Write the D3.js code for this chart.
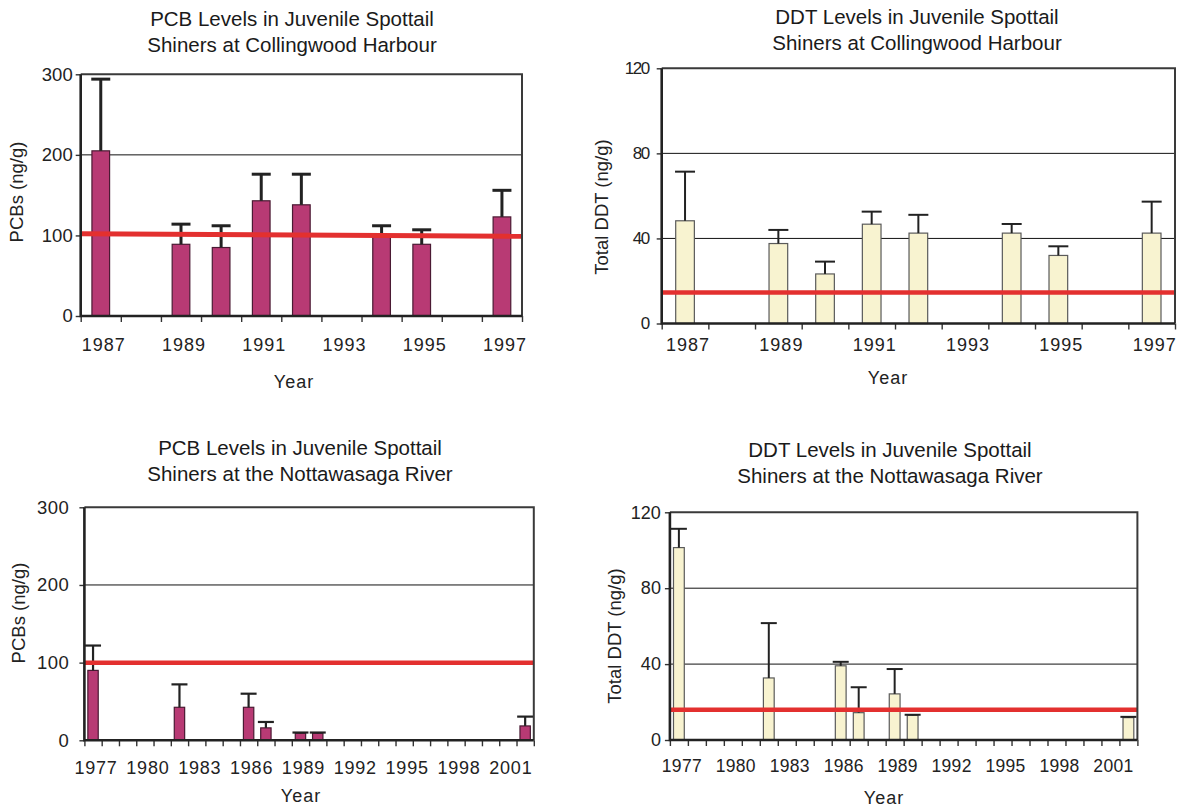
<!DOCTYPE html>
<html><head><meta charset="utf-8">
<script src="https://cdn.jsdelivr.net/npm/d3@7"></script>
<style>
html,body{margin:0;padding:0;background:#fff;}
svg{display:block;font-family:"Liberation Sans",Arial,sans-serif;}
</style>
</head><body>
<svg id="c" width="1178" height="808"></svg>
<script>
// ---------- DATA ----------
const collYears = [1987,1988,1989,1990,1991,1992,1993,1994,1995,1996,1997];
const collSampleYears = [1987,1989,1990,1991,1992,1994,1995,1997];
const collPcbMean  = [205, 89, 85, 143, 138, 101, 89, 123];
const collPcbUpper = [294, 114, 112, 176, 176, 112, 107, 156];
const collDdtMean  = [48.3, 37.6, 23.3, 46.7, 42.5, 42.5, 32.0, 42.5];
const collDdtUpper = [71.4, 44.0, 29.1, 52.6, 51.1, 46.8, 36.3, 57.3];
const collTickLabels = [1987,1989,1991,1993,1995,1997];

const nottYears = [1977,1978,1979,1980,1981,1982,1983,1984,1985,1986,1987,1988,1989,
                   1990,1991,1992,1993,1994,1995,1996,1997,1998,1999,2000,2001,2002];
const nottSampleYears = [1977,1982,1986,1987,1989,1990,2002];
const nottPcbMean  = [90, 42.5, 42.5, 16, 9, 9, 18.5];
const nottPcbUpper = [122, 72, 60, 23.6, 10, 10, 30.5];
const nottDdtMean  = [101.4, 32.7, 39.1, 14.4, 24.3, 13.0, 11.8];
const nottDdtUpper = [111.3, 61.6, 41.2, 27.8, 37.4, 13.3, 12.2];
const nottTickLabels = [1977,1980,1983,1986,1989,1992,1995,1998,2001];

const pcbTicks = [0,100,200,300];
const pcbGrid = [100,200];
const ddtTicks = [0,40,80,120];
const ddtGrid = [40,80];

const guideCollPcb = [102, 99];
const guideCollDdt = [14.6, 14.6];
const guideNottPcb = [100, 100];
const guideNottDdt = [16, 16];

// ---------- DRAW ----------
const svg = d3.select("#c");
const PCB_FILL = "#b83a74", PCB_STROKE = "#4a1a33";
const DDT_FILL = "#f8f3d0", DDT_STROKE = "#5a5a5a";

function drawPanel(o) {
  const g = svg.append("g");
  const n = o.categories.length;
  const x = d3.scaleBand().domain(o.categories).range([o.left, o.right]).padding(0);
  const xe = d3.scaleLinear().domain([0, n]).range([o.left, o.right]);
  const y = d3.scaleLinear().domain([0, o.yMax]).range([o.bottom, o.top]);

  g.selectAll("line.grid").data(o.grid).join("line")
    .attr("x1", o.left).attr("x2", o.right)
    .attr("y1", d => y(d)).attr("y2", d => y(d))
    .attr("stroke", "#111").attr("stroke-width", 1);

  const data = o.sampleYears.map((yr, i) => ({yr, m: o.means[i], u: o.upper[i]}));
  const bw = x.bandwidth() * o.barFrac;
  const cx = d => x(d.yr) + x.bandwidth() / 2;

  g.selectAll("rect.bar").data(data).join("rect")
    .attr("x", d => cx(d) - bw / 2).attr("width", bw)
    .attr("y", d => y(d.m)).attr("height", d => o.bottom - y(d.m))
    .attr("fill", o.fill).attr("stroke", o.stroke).attr("stroke-width", 1.2);

  g.selectAll("line.err").data(data).join("line")
    .attr("x1", cx).attr("x2", cx)
    .attr("y1", d => y(d.m)).attr("y2", d => y(d.u))
    .attr("stroke", "#222").attr("stroke-width", o.errW);
  g.selectAll("line.cap").data(data).join("line")
    .attr("x1", d => cx(d) - o.capW / 2).attr("x2", d => cx(d) + o.capW / 2)
    .attr("y1", d => y(d.u)).attr("y2", d => y(d.u))
    .attr("stroke", "#222").attr("stroke-width", o.errW);

  g.append("line")
    .attr("x1", o.left).attr("x2", o.right)
    .attr("y1", y(o.guide[0])).attr("y2", y(o.guide[1]))
    .attr("stroke", "#e3302f").attr("stroke-width", o.guideW);

  g.append("path")
    .attr("d", `M${o.left},${o.top}H${o.right}V${o.bottom}`)
    .attr("fill", "none").attr("stroke", "#3a3a3a").attr("stroke-width", 2);

  const xa = g.append("g").attr("transform", `translate(0,${o.bottom})`)
    .call(d3.axisBottom(xe).tickValues(d3.range(n + 1)).tickSize(6).tickFormat(""));
  xa.select(".domain").remove();
  xa.selectAll("line").attr("stroke", "#333").attr("stroke-width", 1.4);

  const xl = g.append("g").attr("transform", `translate(${o.xLabDx},${o.bottom})`)
    .call(d3.axisBottom(x).tickValues(o.tickLabels).tickSize(0).tickPadding(o.xLabPad));
  xl.select(".domain").remove();
  xl.selectAll("text").attr("font-size", o.xLabSize).attr("fill", "#222")
    .attr("font-family", "Liberation Sans, Arial, sans-serif")
    .attr("letter-spacing", o.xLabLS);

  const ya = g.append("g").attr("transform", `translate(${o.left},0)`)
    .call(d3.axisLeft(y).tickValues(o.yTicks).tickSize(5).tickPadding(o.yLabPad).tickFormat(d3.format("d")));
  ya.select(".domain").remove();
  ya.selectAll("line").attr("stroke", "#333").attr("stroke-width", 1.4);
  ya.selectAll("text").attr("font-size", o.yLabSize).attr("fill", "#222")
    .attr("font-family", "Liberation Sans, Arial, sans-serif")
    .attr("letter-spacing", o.yLabLS);

  g.append("path")
    .attr("d", `M${o.left},${o.top}V${o.bottom}H${o.right}`)
    .attr("fill", "none").attr("stroke", "#222").attr("stroke-width", 2.6);

  o.title.forEach((t, i) => {
    g.append("text").attr("x", o.titleX).attr("y", o.titleY + i * 26)
      .attr("text-anchor", "middle").attr("font-size", 20.5).attr("fill", "#1a1a1a").text(t);
  });
  g.append("text").attr("transform", `translate(${o.yTitleX},${o.yTitleY}) rotate(-90)`)
    .attr("text-anchor", "middle").attr("dominant-baseline", "middle")
    .attr("font-size", 18.5).attr("fill", "#222").text(o.yTitle);
  g.append("text").attr("x", o.xTitleX).attr("y", o.xTitleY)
    .attr("text-anchor", "middle").attr("font-size", 18).attr("letter-spacing", 1)
    .attr("fill", "#222").text("Year");
}

drawPanel({
  left: 80.7, right: 522, top: 74.3, bottom: 316,
  categories: collYears, sampleYears: collSampleYears, means: collPcbMean, upper: collPcbUpper,
  yMax: 300, yTicks: pcbTicks, grid: pcbGrid, guide: guideCollPcb,
  fill: PCB_FILL, stroke: PCB_STROKE, barFrac: 0.44, capW: 19, errW: 3, guideW: 5,
  tickLabels: collTickLabels, xLabPad: 22, xLabSize: 18, xLabLS: 1, xLabDx: 3,
  yLabPad: 3, yLabSize: 18.5, yLabLS: 0,
  title: ["PCB Levels in Juvenile Spottail", "Shiners at Collingwood Harbour"], titleX: 292, titleY: 26,
  yTitle: "PCBs (ng/g)", yTitleX: 18, yTitleY: 192, xTitleX: 294, xTitleY: 388
});

drawPanel({
  left: 661.7, right: 1175, top: 68.3, bottom: 323.5,
  categories: collYears, sampleYears: collSampleYears, means: collDdtMean, upper: collDdtUpper,
  yMax: 120, yTicks: ddtTicks, grid: ddtGrid, guide: guideCollDdt,
  fill: DDT_FILL, stroke: DDT_STROKE, barFrac: 0.4, capW: 20, errW: 2, guideW: 4.5,
  tickLabels: collTickLabels, xLabPad: 15, xLabSize: 18, xLabLS: 1, xLabDx: 3,
  yLabPad: 8, yLabSize: 17, yLabLS: -1.5,
  title: ["DDT Levels in Juvenile Spottail", "Shiners at Collingwood Harbour"], titleX: 917, titleY: 24,
  yTitle: "Total DDT (ng/g)", yTitleX: 603, yTitleY: 207, xTitleX: 888, xTitleY: 384
});

drawPanel({
  left: 84.4, right: 533.8, top: 507.3, bottom: 740.3,
  categories: nottYears, sampleYears: nottSampleYears, means: nottPcbMean, upper: nottPcbUpper,
  yMax: 300, yTicks: pcbTicks, grid: pcbGrid, guide: guideNottPcb,
  fill: PCB_FILL, stroke: PCB_STROKE, barFrac: 0.6, capW: 16, errW: 2.2, guideW: 4.5,
  tickLabels: nottTickLabels, xLabPad: 21, xLabSize: 18, xLabLS: 0.8, xLabDx: 3,
  yLabPad: 10, yLabSize: 18.5, yLabLS: 0.5,
  title: ["PCB Levels in Juvenile Spottail", "Shiners at the Nottawasaga River"], titleX: 300, titleY: 455,
  yTitle: "PCBs (ng/g)", yTitleX: 20, yTitleY: 613, xTitleX: 301, xTitleY: 802
});

drawPanel({
  left: 669.9, right: 1137.4, top: 512.3, bottom: 740,
  categories: nottYears, sampleYears: nottSampleYears, means: nottDdtMean, upper: nottDdtUpper,
  yMax: 120, yTicks: ddtTicks, grid: ddtGrid, guide: guideNottDdt,
  fill: DDT_FILL, stroke: DDT_STROKE, barFrac: 0.6, capW: 16, errW: 2, guideW: 4.5,
  tickLabels: nottTickLabels, xLabPad: 20, xLabSize: 17.5, xLabLS: 0.3, xLabDx: 3,
  yLabPad: 4, yLabSize: 18, yLabLS: 0,
  title: ["DDT Levels in Juvenile Spottail", "Shiners at the Nottawasaga River"], titleX: 890, titleY: 457,
  yTitle: "Total DDT (ng/g)", yTitleX: 616, yTitleY: 636, xTitleX: 884, xTitleY: 804
});
</script>
</body></html>
